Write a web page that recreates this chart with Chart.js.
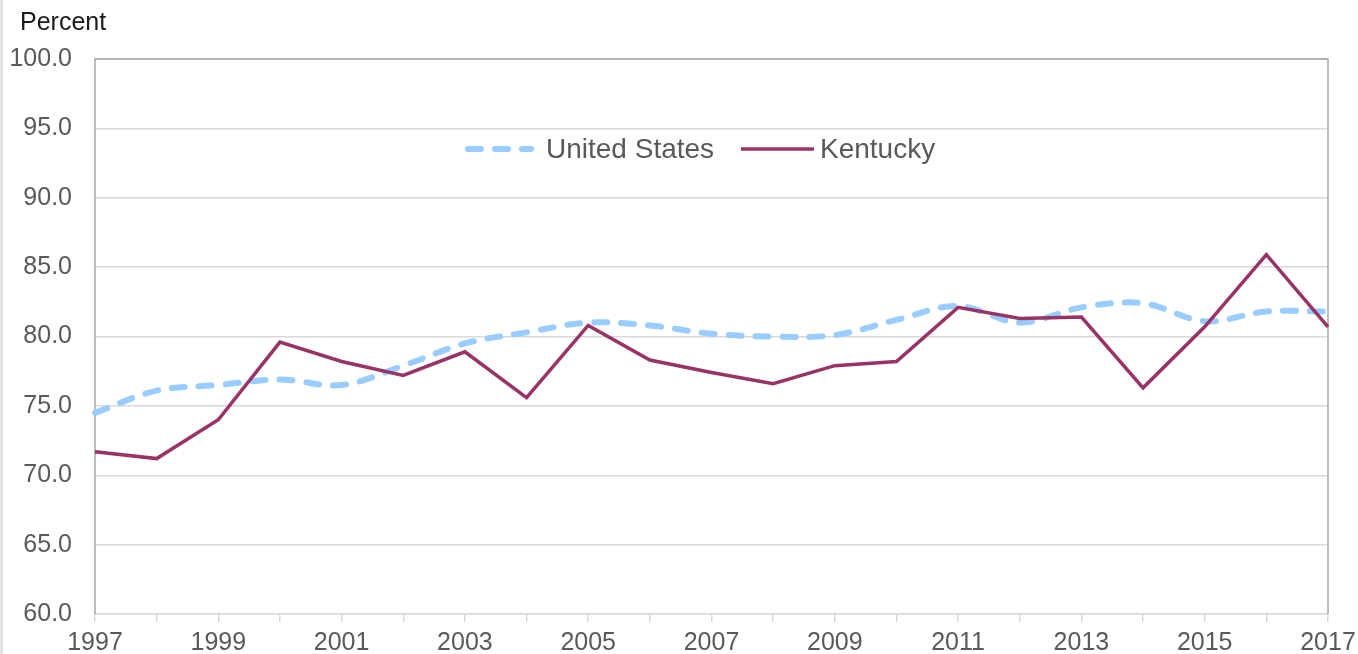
<!DOCTYPE html>
<html>
<head>
<meta charset="utf-8">
<script src="https://cdn.jsdelivr.net/npm/chart.js@4"></script>
<style>
  html, body { margin: 0; padding: 0; background: #fff; }
  #wrap { position: relative; width: 1358px; height: 654px; }
  #wrap::before { content: ''; position: absolute; left: 0; top: 0; width: 3px; height: 654px; background: #e3e3e3; }
  canvas { display: block; }
</style>
</head>
<body>
<div id="wrap"><canvas id="grafico" width="1358" height="654"></canvas></div>
<script>
// dados
const anos = ['1997','1998','1999','2000','2001','2002','2003','2004','2005','2006','2007',
              '2008','2009','2010','2011','2012','2013','2014','2015','2016','2017'];
const estadosUnidos = [74.5, 76.1, 76.5, 76.9, 76.5, 77.9, 79.5, 80.3, 81.0, 80.8, 80.2,
                       80.0, 80.1, 81.2, 82.2, 81.0, 82.1, 82.4, 81.1, 81.8, 81.8];
const kentucky = [71.7, 71.2, 74.0, 79.6, 78.2, 77.2, 78.9, 75.6, 80.8, 78.3, 77.4,
                  76.6, 77.9, 78.2, 82.1, 81.3, 81.4, 76.3, 80.7, 85.9, 80.7];
const seriesNomes = ['United States', 'Kentucky'];

const fonte = 'Liberation Sans, Arial, sans-serif';
const corTexto = '#595959';

// moldura, título do eixo e legenda desenhados à mão
const extras = {
  id: 'extras',
  beforeDatasetsDraw(chart) {
    const { ctx, chartArea: a } = chart;
    ctx.save();
    ctx.strokeStyle = '#a6a6a6';
    ctx.lineWidth = 1.5;
    ctx.beginPath();
    ctx.moveTo(a.left, a.bottom);
    ctx.lineTo(a.left, a.top);
    ctx.lineTo(a.right, a.top);
    ctx.lineTo(a.right, a.bottom);
    ctx.stroke();
    ctx.restore();
  },
  afterDraw(chart) {
    const { ctx } = chart;
    ctx.save();
    ctx.fillStyle = '#1a1a1a';
    ctx.font = '25px ' + fonte;
    ctx.textBaseline = 'middle';
    ctx.fillText('Percent', 20, 23);

    // legenda
    const y = 149;
    const us = chart.data.datasets[0], ky = chart.data.datasets[1];
    ctx.lineCap = 'round';
    ctx.strokeStyle = us.borderColor;
    ctx.lineWidth = us.borderWidth;
    ctx.setLineDash(us.borderDash);
    ctx.beginPath(); ctx.moveTo(468, y); ctx.lineTo(531, y); ctx.stroke();
    ctx.setLineDash([]);
    ctx.lineCap = 'butt';
    ctx.strokeStyle = ky.borderColor;
    ctx.lineWidth = ky.borderWidth;
    ctx.beginPath(); ctx.moveTo(741, y); ctx.lineTo(814, y); ctx.stroke();
    ctx.fillStyle = corTexto;
    ctx.font = '28px ' + fonte;
    ctx.fillText(us.label, 546, y + 1);
    ctx.fillText(ky.label, 820, y + 1);
    ctx.restore();
  }
};

new Chart(document.getElementById('grafico'), {
  type: 'line',
  data: {
    labels: anos,
    datasets: [{
      label: seriesNomes[0],
      data: estadosUnidos,
      borderColor: '#99ccff',
      borderWidth: 6,
      borderDash: [13, 14],
      borderCapStyle: 'round',
      tension: 0.35,
      pointRadius: 0,
      order: 2
    }, {
      label: seriesNomes[1],
      data: kentucky,
      borderColor: '#993366',
      borderWidth: 3.5,
      tension: 0,
      pointRadius: 0,
      order: 1
    }]
  },
  options: {
    responsive: false,
    animation: false,
    layout: { padding: { left: 0, right: 30, top: 59, bottom: 0 } },
    plugins: { legend: { display: false }, tooltip: { enabled: false } },
    scales: {
      x: {
        offset: false,
        grid: { drawOnChartArea: false, drawTicks: true, tickLength: 8, color: '#d9d9d9', lineWidth: 1.5 },
        border: { color: '#d9d9d9', width: 1.5 },
        ticks: {
          autoSkip: false, maxRotation: 0, padding: 6,
          color: corTexto, font: { family: fonte, size: 25 },
          callback: (v, i) => (i % 2 === 0 ? anos[i] : '')
        },
        afterFit: s => { s.height = 40; s.paddingLeft = 0; s.paddingRight = 0; }
      },
      y: {
        min: 60, max: 100,
        grid: { color: '#d9d9d9', lineWidth: 1.5, drawTicks: false },
        border: { display: false },
        ticks: {
          stepSize: 5, padding: 23,
          color: corTexto, font: { family: fonte, size: 25 },
          callback: v => v.toFixed(1)
        },
        afterFit: s => { s.width = 95; s.paddingTop = 0; s.paddingBottom = 0; }
      }
    }
  },
  plugins: [extras]
});
</script>
</body>
</html>
